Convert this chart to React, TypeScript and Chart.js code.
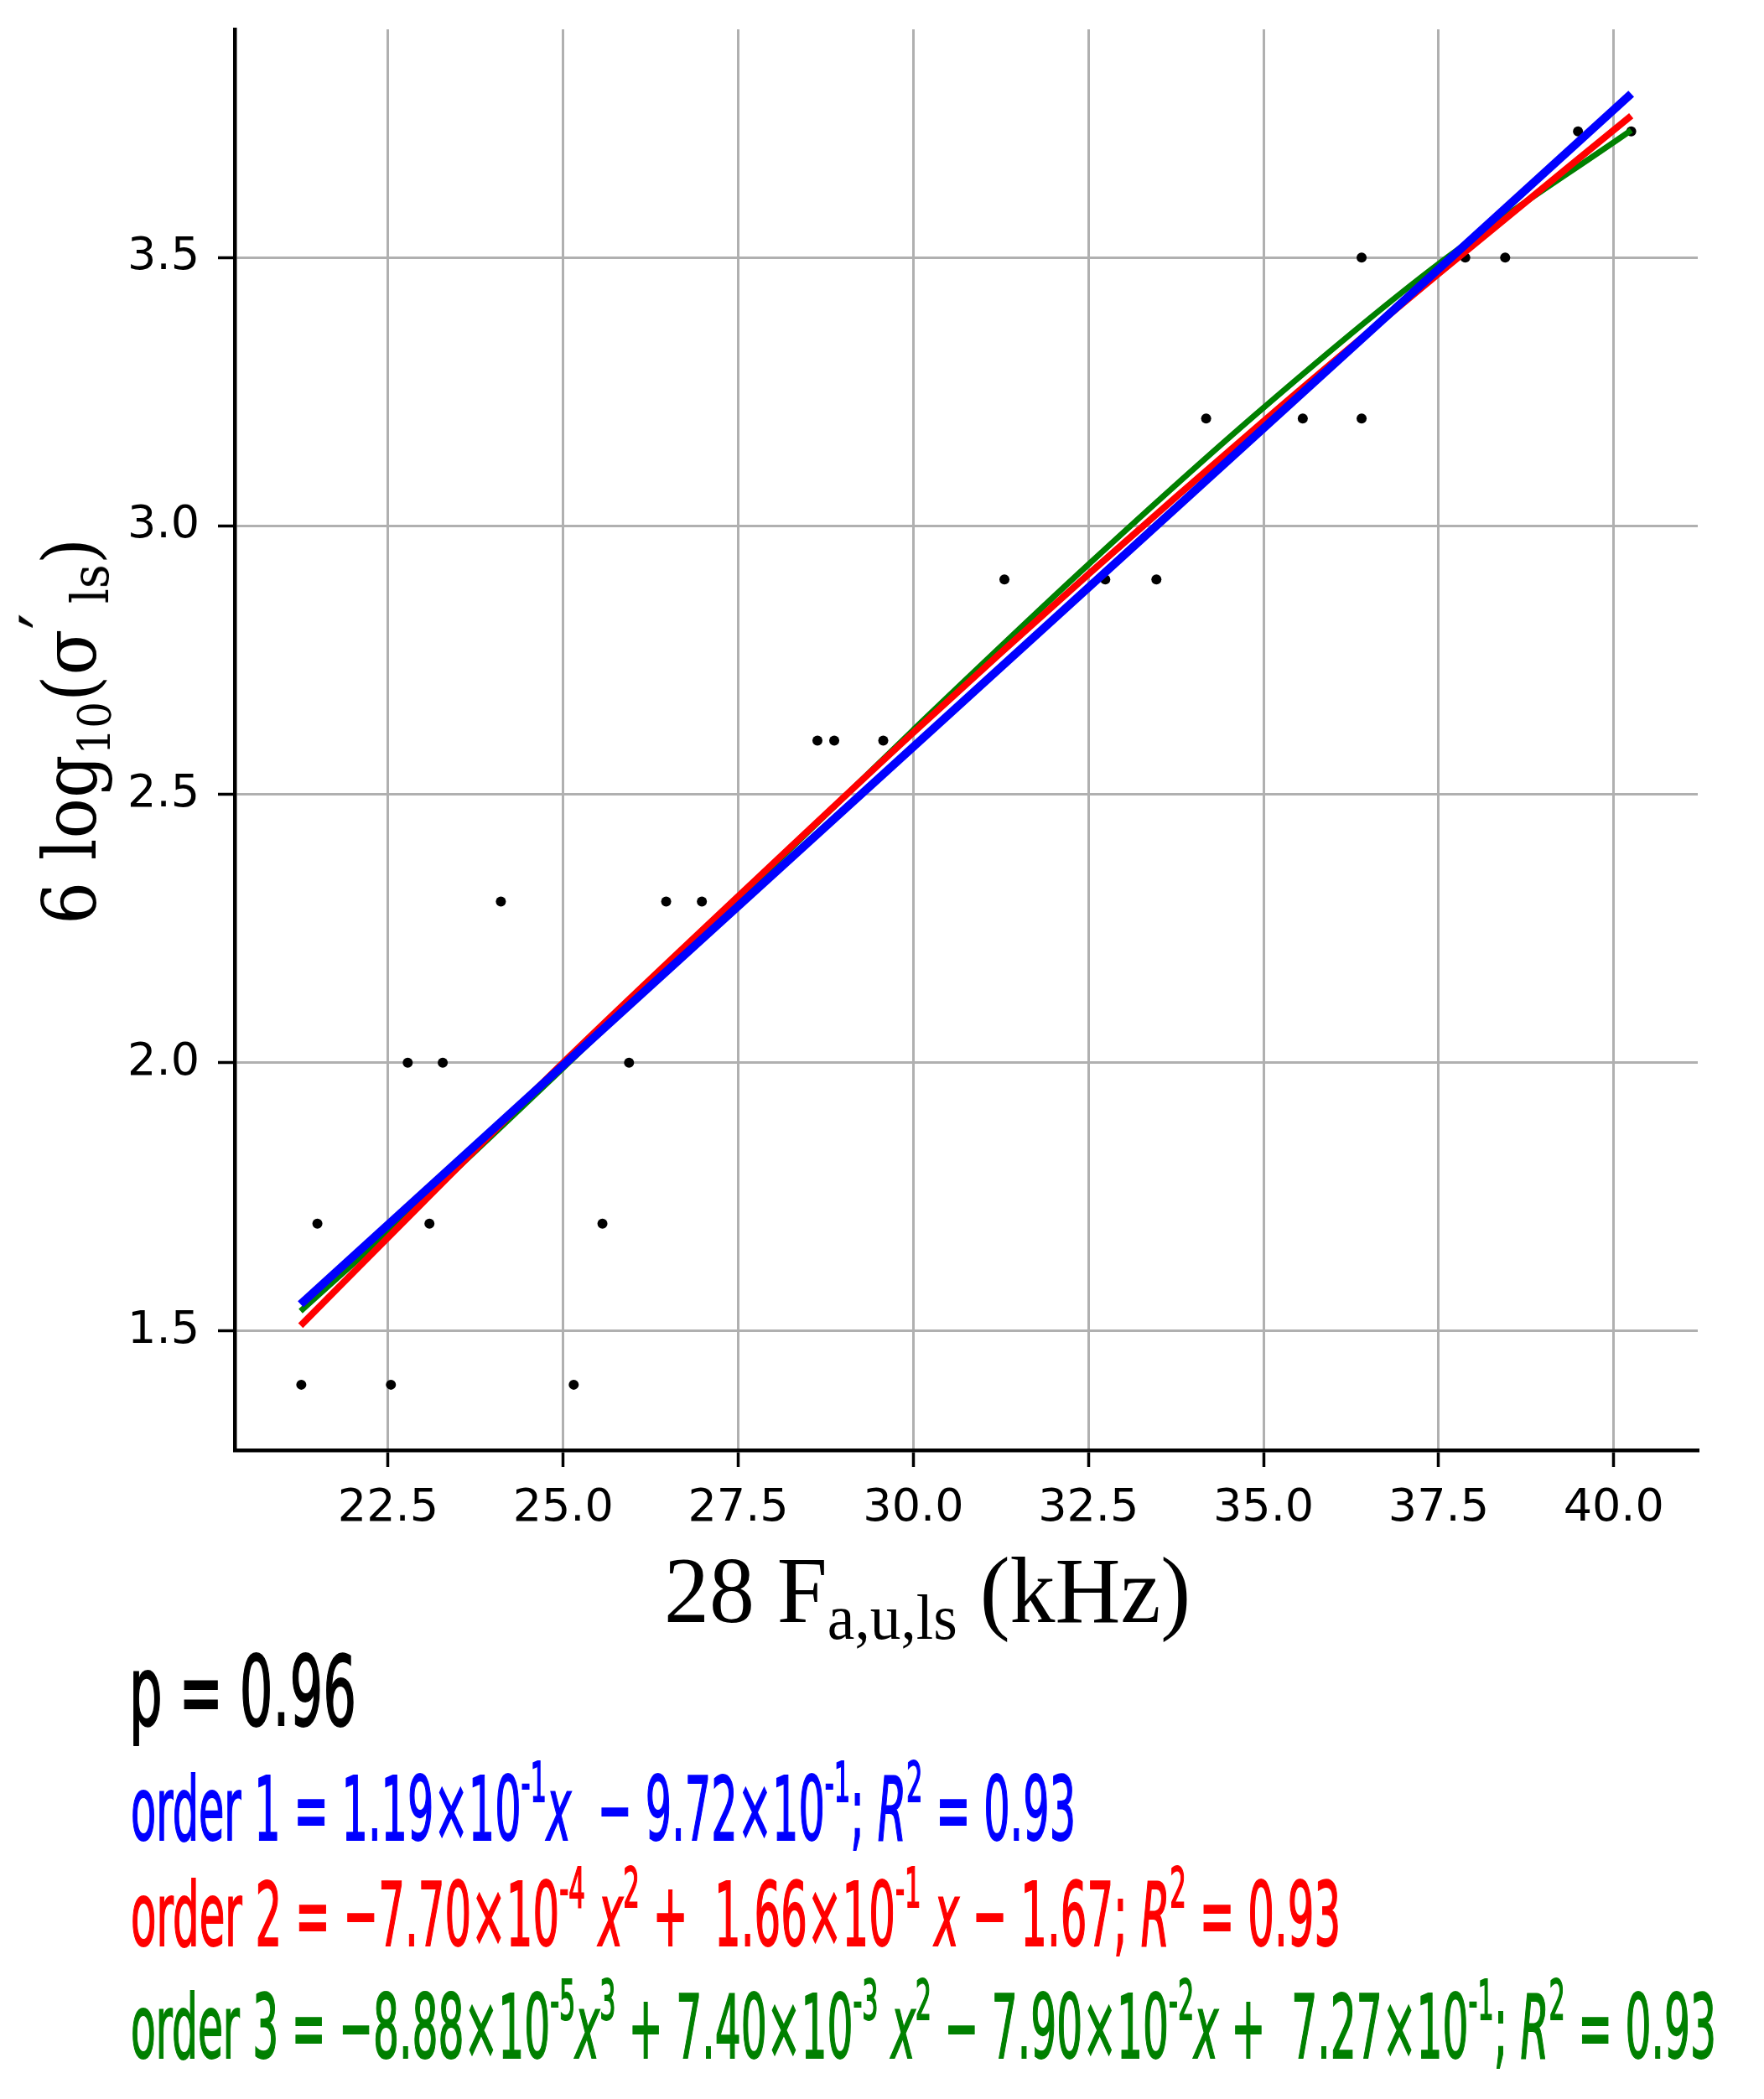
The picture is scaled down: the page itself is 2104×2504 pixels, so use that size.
import React, { useEffect, useLayoutEffect, useRef } from 'react';
import { Chart, registerables } from 'chart.js';

Chart.register(...registerables);

// measured points (x in kHz, y = 6 log10(sigma'))
const pointX = [21.26, 21.49, 22.54, 22.78, 23.09, 23.28, 24.11, 25.15, 25.56, 25.94, 26.47, 26.98, 28.63, 28.87, 29.57, 31.30, 32.74, 33.47, 34.18, 35.56, 36.40, 36.40, 37.88, 38.45, 39.49, 40.25];
const pointY = [1.40, 1.70, 1.40, 2.00, 1.70, 2.00, 2.30, 1.40, 1.70, 2.00, 2.30, 2.30, 2.60, 2.60, 2.60, 2.90, 2.90, 2.90, 3.20, 3.20, 3.20, 3.50, 3.50, 3.50, 3.735, 3.735];

// fitted curves
const order1X = [21.25, 40.25];
const order1Y = [1.55, 3.805];
const curveX = [21.25, 23, 25, 27.5, 30, 32.5, 35, 37.5, 40.25];
const order2Y = [1.51, 1.74, 2.0, 2.31, 2.615, 2.91, 3.195, 3.47, 3.764];
const order3Y = [1.537, 1.744, 1.99, 2.304, 2.62, 2.928, 3.22, 3.488, 3.737];

const xTicks = [22.5, 25.0, 27.5, 30.0, 32.5, 35.0, 37.5, 40.0];
const yTicks = [1.5, 2.0, 2.5, 3.0, 3.5];

const X_MIN = 20.31;
const X_MAX = 41.2;
const Y_MIN = 1.278;
const Y_MAX = 3.925;

const CANVAS_W = 2104;
const CANVAS_H = 2000;

const Sup = ({ children, raise = 0.43, scale = 0.62 }: { children: React.ReactNode; raise?: number; scale?: number }) => (
  <span style={{ position: 'relative', top: `${-raise}em` }}>
    <span style={{ fontSize: `${scale}em` }}>{children}</span>
  </span>
);

const Sub = ({ children, drop = 0.2, scale = 0.65 }: { children: React.ReactNode; drop?: number; scale?: number }) => (
  <span style={{ position: 'relative', top: `${drop}em` }}>
    <span style={{ fontSize: `${scale}em` }}>{children}</span>
  </span>
);

interface LineProps {
  left: number;
  baseline: number;
  width: number;
  size: number;
  family: string;
  color?: string;
  stroke?: number;
  rotate?: boolean;
  children: React.ReactNode;
}

// text line squeezed to a given width, placed by its baseline
const FitLine: React.FC<LineProps> = ({ left, baseline, width, size, family, color = '#000', stroke = 0, rotate = false, children }) => {
  const boxRef = useRef<HTMLDivElement>(null);
  const markRef = useRef<HTMLSpanElement>(null);

  useLayoutEffect(() => {
    const box = boxRef.current;
    const mark = markRef.current;
    if (!box || !mark) return;
    const s = width / box.offsetWidth;
    const b = mark.offsetTop;
    if (rotate) {
      // left = baseline x, baseline = y where text starts (bottom)
      box.style.left = `${left - b}px`;
      box.style.top = `${baseline}px`;
      box.style.transform = `rotate(-90deg) scaleX(${s})`;
    } else {
      box.style.left = `${left}px`;
      box.style.top = `${baseline - b}px`;
      box.style.transform = `scaleX(${s})`;
    }
  }, [left, baseline, width, rotate]);

  return (
    <div
      ref={boxRef}
      style={{
        position: 'absolute',
        left,
        top: baseline,
        width: 'max-content',
        whiteSpace: 'nowrap',
        transformOrigin: '0 0',
        fontFamily: family,
        fontSize: size,
        lineHeight: 1,
        color,
        WebkitTextStroke: stroke ? `${stroke}px ${color}` : undefined,
      }}
    >
      <span ref={markRef} style={{ display: 'inline-block', width: 0, height: 0 }} />
      {children}
    </div>
  );
};

const FitChart: React.FC = () => {
  const canvasRef = useRef<HTMLCanvasElement>(null);
  const chartRef = useRef<Chart | null>(null);

  useEffect(() => {
    if (!canvasRef.current) return;
    const ctx = canvasRef.current.getContext('2d');
    if (!ctx) return;

    const tickFont = { family: 'DejaVu Sans', size: 54 };
    const grid = { color: '#b0b0b0', lineWidth: 3, tickColor: '#000', tickLength: 20, tickWidth: 3.5 };
    const border = { color: '#000', width: 4.5 };

    chartRef.current = new Chart(ctx, {
      type: 'scatter',
      data: {
        datasets: [
          {
            label: 'order 1',
            data: order1X.map((x, i) => ({ x, y: order1Y[i] })),
            showLine: true,
            borderColor: '#0000ff',
            borderWidth: 10,
            pointRadius: 0,
          },
          {
            label: 'order 2',
            data: curveX.map((x, i) => ({ x, y: order2Y[i] })),
            showLine: true,
            borderColor: '#ff0000',
            borderWidth: 8,
            pointRadius: 0,
            cubicInterpolationMode: 'monotone',
          },
          {
            label: 'order 3',
            data: curveX.map((x, i) => ({ x, y: order3Y[i] })),
            showLine: true,
            borderColor: '#008000',
            borderWidth: 7,
            pointRadius: 0,
            cubicInterpolationMode: 'monotone',
          },
          {
            label: 'data',
            data: pointX.map((x, i) => ({ x, y: pointY[i] })),
            showLine: false,
            pointRadius: 6,
            pointBackgroundColor: '#000',
            pointBorderWidth: 0,
          },
        ],
      },
      options: {
        animation: false,
        responsive: true,
        maintainAspectRatio: false,
        events: [],
        layout: { padding: { top: 35, right: 79, left: 0, bottom: 0 } },
        plugins: { legend: { display: false }, tooltip: { enabled: false } },
        scales: {
          x: {
            type: 'linear',
            min: X_MIN,
            max: X_MAX,
            afterBuildTicks: (scale: any) => {
              scale.ticks = xTicks.map((v) => ({ value: v }));
            },
            afterFit: (scale: any) => {
              scale.height = CANVAS_H - 1730;
              scale.paddingLeft = 0;
              scale.paddingRight = 0;
            },
            grid,
            border,
            ticks: {
              color: '#000',
              font: tickFont,
              padding: 18,
              autoSkip: false,
              maxRotation: 0,
              callback: (v: any) => Number(v).toFixed(1),
            },
          },
          y: {
            type: 'linear',
            min: Y_MIN,
            max: Y_MAX,
            afterBuildTicks: (scale: any) => {
              scale.ticks = yTicks.map((v) => ({ value: v }));
            },
            afterFit: (scale: any) => {
              scale.width = 280;
              scale.paddingTop = 0;
              scale.paddingBottom = 0;
            },
            grid,
            border,
            ticks: {
              color: '#000',
              font: tickFont,
              padding: 22,
              autoSkip: false,
              callback: (v: any) => Number(v).toFixed(1),
            },
          },
        },
      },
    });

    return () => {
      chartRef.current?.destroy();
      chartRef.current = null;
    };
  }, []);

  return (
    <div style={{ position: 'absolute', left: 0, top: 0, width: CANVAS_W, height: CANVAS_H }}>
      <canvas ref={canvasRef} />
    </div>
  );
};

const App: React.FC = () => {
  const eqFont = '"DejaVu Sans", sans-serif';
  return (
    <div style={{ position: 'absolute', left: 0, top: 0, width: 2104, height: 2504, background: '#fff', overflow: 'hidden' }}>
      <FitChart />

      {/* y axis title */}
      <FitLine left={114} baseline={1103} width={461} size={88} family='"DejaVu Serif", serif' rotate>
        6 log<Sub drop={0.2} scale={0.62}>10</Sub>(σ<Sup raise={0.28} scale={1.05}>′</Sup>
        <Sub drop={0.17} scale={0.7}>{'\u2009ls'}</Sub>)
      </FitLine>

      {/* x axis title */}
      <FitLine left={792} baseline={1935} width={628} size={112} family='"Liberation Serif", serif'>
        28 F<Sub drop={0.18} scale={0.68}>a,u,ls</Sub>{'\u00a0'}(kHz)
      </FitLine>

      <FitLine left={154} baseline={2058} width={271} size={116} family={eqFont} stroke={2}>
        p = 0.96
      </FitLine>

      <FitLine left={156} baseline={2195} width={1127} size={106} family={eqFont} color="#0000ff" stroke={2}>
        order 1 = 1.19×10<Sup>-1</Sup><i>x</i>{'\u00a0'} − 9.72×10<Sup>-1</Sup>; <i>R</i><Sup>2</Sup> = 0.93
      </FitLine>

      <FitLine left={156} baseline={2321} width={1443} size={106} family={eqFont} color="#ff0000" stroke={2}>
        order 2 = −7.70×10<Sup>-4</Sup> <i>x</i><Sup>2</Sup> + {'\u00a0'}1.66×10<Sup>-1</Sup> <i>x</i> − 1.67; <i>R</i><Sup>2</Sup> = 0.93
      </FitLine>

      <FitLine left={156} baseline={2455} width={1891} size={106} family={eqFont} color="#008000" stroke={2}>
        order 3 = −8.88×10<Sup>-5</Sup><i>x</i><Sup>3</Sup> + 7.40×10<Sup>-3</Sup> <i>x</i><Sup>2</Sup> − 7.90×10<Sup>-2</Sup><i>x</i> + {'\u00a0'}7.27×10<Sup>-1</Sup>; <i>R</i><Sup>2</Sup> = 0.93
      </FitLine>
    </div>
  );
};

export default App;
